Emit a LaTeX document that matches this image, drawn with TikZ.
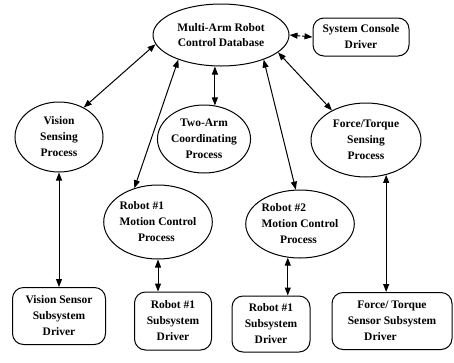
\documentclass[tikz,border=0pt]{standalone}
\usepackage{fontspec}
\setmainfont{Liberation Serif}
\usetikzlibrary{shapes.geometric,arrows.meta}

\begin{document}
\begin{tikzpicture}[x=1pt, y=-1pt,
        process/.style={ellipse, draw=black, line width=1pt, inner sep=0pt, align=center,
            font=\fontsize{11.5}{16}\selectfont\bfseries},
        driver/.style={rectangle, rounded corners=11pt, draw=black, line width=1pt, inner sep=0pt,
            align=center, font=\fontsize{11.5}{16}\selectfont\bfseries},
        link/.style={{Triangle[length=8pt,width=6pt]}-{Triangle[length=8pt,width=6pt]}, line width=1pt}]

        \useasboundingbox (0,0) rectangle (454,362);

        \node[process, minimum width=136pt, minimum height=62pt] (db) at (221,35) {Multi-Arm Robot\\[-1pt]Control Database};
        \node[driver, minimum width=96pt, minimum height=38pt] (console) at (361,37) {System Console\\Driver};
        \node[process, minimum width=88pt, minimum height=70pt] (vis) at (59,137) {Vision\\Sensing\\Process};
        \node[process, minimum width=92pt, minimum height=68pt] (two) at (204,139) {Two-Arm\\Coordinating\\Process};
        \node[process, minimum width=110pt, minimum height=74pt] (ft) at (366,140) {Force/Torque\\Sensing\\Process};
        \node[process, align=left, minimum width=106pt, minimum height=74pt] (rob1) at (158,222) {Robot \#1\\Motion Control\\\hspace*{1.6em}Process};
        \node[process, align=left, minimum width=106pt, minimum height=68pt] (rob2) at (300,224) {Robot \#2\\Motion Control\\\hspace*{1.6em}Process};
        \node[driver, minimum width=93pt, minimum height=57pt] (visdrv) at (59,316) {Vision Sensor\\Subsystem\\Driver};
        \node[driver, minimum width=77pt, minimum height=58pt] (r1drv) at (173,321) {Robot \#1\\Subsystem\\Driver};
        \node[driver, minimum width=78pt, minimum height=56pt] (r2drv) at (271,324) {Robot \#1\\Subsystem\\Driver};
        \node[driver, minimum width=120pt, minimum height=57pt] (ftdrv) at (392,321) {Force/ Torque\\Sensor Subsystem\\Driver\hspace*{2em}};

        % database links
        \draw[link] (db.188) -- (vis.50);
        \draw[link] (db.210) -- (rob1.125);
        \draw[link] (db.south -| two.72) -- (two.72);
        \draw[link] (db.330) -- (rob2.97);
        \draw[link] (db.343) -- (ft.139);
        \draw[link, dash pattern=on 3pt off 2pt] (db.east) -- (console.west);

        % process to driver
        \draw[link] (vis.south) -- (visdrv.north);
        \draw[link] (rob1.south) -- (rob1.south |- r1drv.north);
        \draw[link] (rob2.250) -- (rob2.250 |- r2drv.north);
        \draw[link] (ft.300) -- (ft.300 |- ftdrv.north);
    \end{tikzpicture}
\end{document}
